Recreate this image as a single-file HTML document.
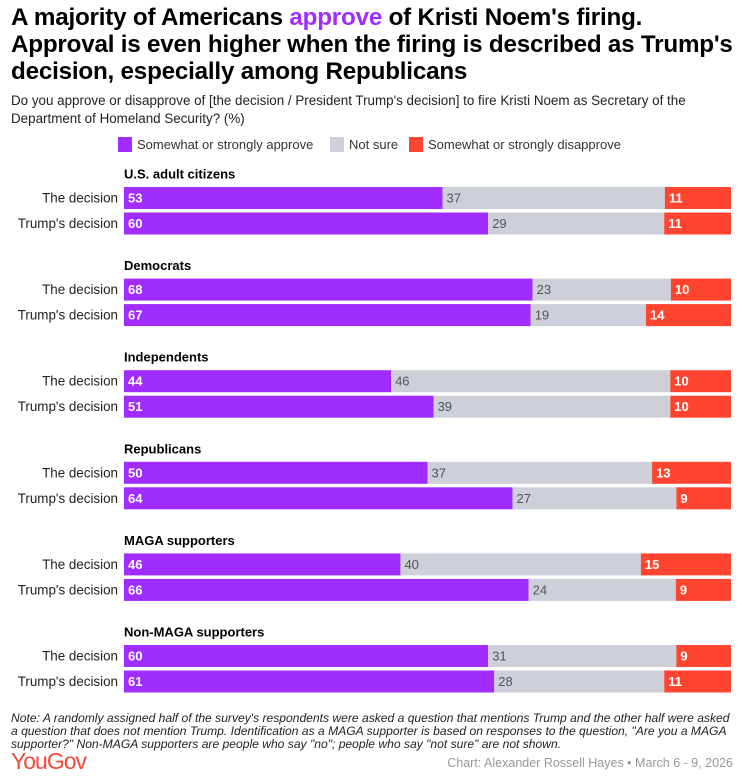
<!DOCTYPE html>
<html><head><meta charset="utf-8">
<style>
body{margin:0;width:744px;height:779px;background:#fff;font-family:"Liberation Sans",Arial,sans-serif;overflow:hidden;position:relative;color:#111}
.t{position:absolute;left:11px;top:4px;font-size:24.2px;font-weight:bold;line-height:27px;letter-spacing:-0.2px;color:#000;white-space:nowrap}
.sub{position:absolute;left:11px;top:92px;font-size:13.4px;line-height:18px;color:#222;white-space:nowrap}
.leg{position:absolute;top:137px;font-size:13px;color:#333;display:flex;align-items:center}
.sw{display:inline-block;width:14px;height:15px;margin-right:5px}
.note{position:absolute;left:11px;top:712px;font-size:12.1px;line-height:13px;font-style:italic;color:#222;white-space:nowrap}
.logo{position:absolute;left:11px;top:748px;font-size:23px;color:#f0493a;letter-spacing:-1px}
.cred{position:absolute;right:11px;top:756px;font-size:12.5px;color:#999}
</style></head><body>
<div class="t">A majority of Americans <span style="color:#a02cff">approve</span> of Kristi Noem's firing.<br>Approval is even higher when the firing is described as Trump's<br>decision, especially among Republicans</div>
<div class="sub">Do you approve or disapprove of [the decision / President Trump's decision] to fire Kristi Noem as Secretary of the<br>Department of Homeland Security? (%)</div>
<div class="leg" style="left:118px"><span class="sw" style="background:#a02cff"></span>Somewhat or strongly approve</div>
<div class="leg" style="left:330px"><span class="sw" style="background:#cdd0d9"></span>Not sure</div>
<div class="leg" style="left:409px"><span class="sw" style="background:#ff4530"></span>Somewhat or strongly disapprove</div>
<svg id="chart" width="744" height="779" style="position:absolute;left:0;top:0"></svg>
<div class="note">Note: A randomly assigned half of the survey's respondents were asked a question that mentions Trump and the other half were asked<br>a question that does not mention Trump. Identification as a MAGA supporter is based on responses to the question, "Are you a MAGA<br>supporter?" Non-MAGA supporters are people who say "no"; people who say "not sure" are not shown.</div>
<div class="logo">YouGov</div>
<div class="cred">Chart: Alexander Rossell Hayes • March 6 - 9, 2026</div>
<script>
const groups=["U.S. adult citizens","Democrats","Independents","Republicans","MAGA supporters","Non-MAGA supporters"];
const rowLabels=["The decision","Trump's decision"];
const approve=[[53,60],[68,67],[44,51],[50,64],[46,66],[60,61]];
const notSure=[[37,29],[23,19],[46,39],[37,27],[40,24],[31,28]];
const disapprove=[[11,11],[10,14],[10,10],[13,9],[15,9],[9,11]];

const svg=document.getElementById('chart');
const NS='http://www.w3.org/2000/svg';
const x0=124,fullW=607;
const gy=g=>174+g*91.6;
function mk(tag,attrs,txt){const e=document.createElementNS(NS,tag);for(const k in attrs)e.setAttribute(k,attrs[k]);if(txt!==undefined)e.textContent=txt;svg.appendChild(e);return e;}
groups.forEach((g,gi)=>{
  const t=mk('text',{x:124,y:gy(gi)+4.5,'font-size':13,'font-weight':'bold',fill:'#000'},g);
  
  
  rowLabels.forEach((r,ri)=>{
    const y=gy(gi)+13+ri*25.5, h=22;
    const l=mk('text',{x:118,y:y+15.5,'font-size':13.4,fill:'#222','text-anchor':'end'},r);
    
    
    const segs=[[approve[gi][ri],'#a02cff','#fff'],[notSure[gi][ri],'#cdd0d9','#555'],[disapprove[gi][ri],'#ff4530','#fff']];
    const total=segs.reduce((a,s)=>a+s[0],0);
    const xs=v=>x0+v/total*fullW;
    let acc=0;
    segs.forEach((s,si)=>{
      const rc=mk('rect',{x:xs(acc),y:y,width:xs(acc+s[0])-xs(acc),height:h,fill:s[1]});
      
      
      const v=mk('text',{x:xs(acc)+4,y:y+15.5,'font-size':13,fill:s[2],'font-weight':si===1?'normal':'bold'},s[0]);
      
      
      acc+=s[0];
    });
  });
});
</script>
</body></html>
